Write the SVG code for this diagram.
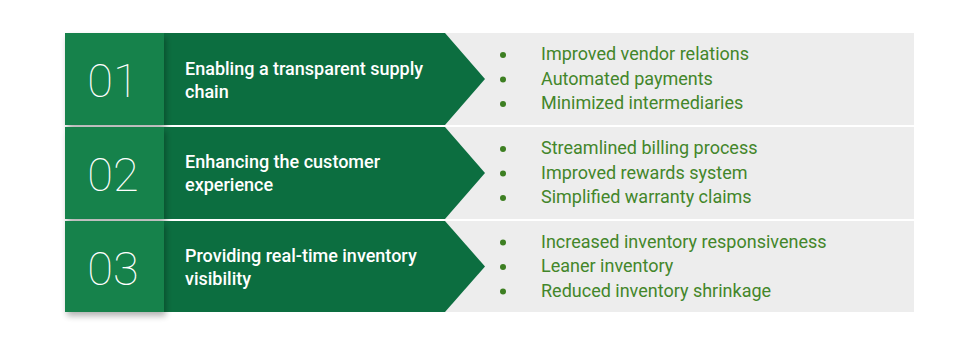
<svg xmlns="http://www.w3.org/2000/svg" width="974" height="345" viewBox="0 0 974 345">
<defs>
<style>
.num{font-family:Roboto,"Liberation Sans",sans-serif;font-weight:100;font-size:47px;fill:#ffffff;text-anchor:middle}
.ttl{font-family:Roboto,"Liberation Sans",sans-serif;font-weight:500;font-size:18px;fill:#ffffff}
.itm{font-family:Roboto,"Liberation Sans",sans-serif;font-weight:400;font-size:18px;fill:#43862a}
.box{fill:#13824b}
.arr{fill:#0c6e40}
.bg{fill:#ededed}
.dot{fill:#3d7f22}
</style>
<filter id="sh" x="-20%" y="-20%" width="150%" height="150%">
<feGaussianBlur in="SourceAlpha" stdDeviation="3"/>
<feOffset dx="2" dy="4" result="b"/>
<feComponentTransfer><feFuncA type="linear" slope="0.3"/></feComponentTransfer>
<feMerge><feMergeNode/><feMergeNode in="SourceGraphic"/></feMerge>
</filter>
</defs>
<rect width="974" height="345" fill="#ffffff"/>
<g id="row1">
<rect class="bg" x="430" y="33" width="484" height="92"/>
<polygon class="arr" points="164,33 445,33 485,79 445,125 164,125"/>
<rect class="box" x="65" y="33" width="99" height="92" filter="url(#sh)"/>
<text class="num" x="113" y="97">01</text>
<text class="ttl" x="185" y="74.5">Enabling a transparent supply</text>
<text class="ttl" x="185" y="97.5">chain</text>
<circle class="dot" cx="503" cy="55" r="3"/>
<circle class="dot" cx="503" cy="79.5" r="3"/>
<circle class="dot" cx="503" cy="104" r="3"/>
<text class="itm" x="541" y="60">Improved vendor relations</text>
<text class="itm" x="541" y="84.5">Automated payments</text>
<text class="itm" x="541" y="109">Minimized intermediaries</text>
</g>
<g id="row2">
<rect class="bg" x="430" y="127" width="484" height="92"/>
<polygon class="arr" points="164,127 445,127 485,173 445,219 164,219"/>
<rect class="box" x="65" y="127" width="99" height="92" filter="url(#sh)"/>
<text class="num" x="113" y="191">02</text>
<text class="ttl" x="185" y="167.5">Enhancing the customer</text>
<text class="ttl" x="185" y="190.5">experience</text>
<circle class="dot" cx="503" cy="149" r="3"/>
<circle class="dot" cx="503" cy="173.5" r="3"/>
<circle class="dot" cx="503" cy="198" r="3"/>
<text class="itm" x="541" y="154">Streamlined billing process</text>
<text class="itm" x="541" y="178.5">Improved rewards system</text>
<text class="itm" x="541" y="203">Simplified warranty claims</text>
</g>
<g id="row3">
<rect class="bg" x="430" y="221" width="484" height="91"/>
<polygon class="arr" points="164,221 445,221 485,266.5 445,312 164,312"/>
<rect class="box" x="65" y="221" width="99" height="91" filter="url(#sh)"/>
<text class="num" x="113" y="285">03</text>
<text class="ttl" x="185" y="262">Providing real-time inventory</text>
<text class="ttl" x="185" y="285">visibility</text>
<circle class="dot" cx="503" cy="242.5" r="3"/>
<circle class="dot" cx="503" cy="267" r="3"/>
<circle class="dot" cx="503" cy="291.5" r="3"/>
<text class="itm" x="541" y="247.5">Increased inventory responsiveness</text>
<text class="itm" x="541" y="272">Leaner inventory</text>
<text class="itm" x="541" y="296.5">Reduced inventory shrinkage</text>
</g>
<g id="connectors"/>
</svg>
